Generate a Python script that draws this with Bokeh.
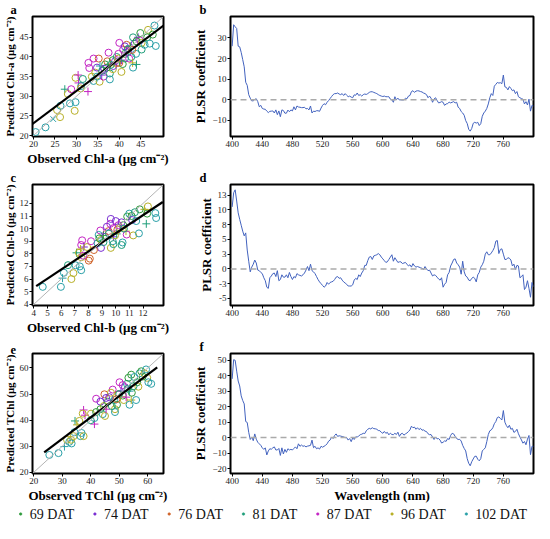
from bokeh.plotting import figure
from bokeh.models import (Range1d, FixedTicker, Title, Span, Slope, ColumnDataSource, FactorRange)
from bokeh.core.properties import value
from bokeh.transform import dodge
from bokeh.layouts import column, row
from bokeh.embed import file_html
from bokeh.resources import INLINE

SERIF = "Liberation Serif"

# ---------------- groups / legend ----------------
dat_labels = ["69 DAT", "74 DAT", "76 DAT", "81 DAT", "87 DAT", "96 DAT", "102 DAT"]
dat_colors = ["#2f9a3c", "#7a2fd2", "#d0642a", "#1f9e7a", "#c424c4", "#b8b028", "#2aa0a8"]
marker_map = {"o": "circle", "+": "cross", "x": "x"}

# ---------------- panel a : Chl-a ----------------
a_obs = [20.5, 22.8, 24.6, 25.5, 26.2, 26.3, 27.3, 28.0, 28.8, 28.5, 29.8, 29.6, 29.8, 30.4, 30.5,
         31.1, 32.7, 31.5, 32.8, 33.0, 33.6, 34.4, 34.0, 34.8, 35.2, 34.0, 35.4, 36.3, 35.9, 35.5,
         36.7, 37.5, 37.8, 37.8, 37.2, 38.5, 39.0, 39.4, 39.8, 40.0, 40.5, 40.0, 40.5, 40.9, 41.3,
         41.7, 41.7, 41.3, 42.1, 42.3, 42.6, 42.8, 43.1, 43.2, 44.0, 43.6, 43.2, 44.4, 43.9, 44.8,
         44.9, 45.2, 45.2, 45.9, 46.7, 46.5, 47.1, 48.2, 48.5, 47.8, 38.5, 38.6, 37.1, 39.8, 41.3,
         39.5, 40.8, 34.8, 31.0, 36.0, 42.0, 44.0, 43.0, 38.0, 36.5]
a_pred = [20.9, 22.1, 24.2, 26.5, 24.7, 27.6, 31.8, 30.6, 31.8, 28.2, 28.5, 26.3, 34.7, 35.4, 33.4,
          32.6, 31.2, 34.4, 38.5, 37.2, 35.0, 36.0, 33.9, 37.3, 39.6, 39.6, 33.7, 35.0, 35.4, 37.7,
          38.1, 41.1, 35.8, 34.3, 38.9, 39.2, 38.9, 40.0, 39.6, 38.5, 39.2, 43.6, 36.2, 41.9, 40.8,
          41.9, 43.1, 39.6, 41.3, 39.6, 42.7, 40.0, 38.5, 37.3, 38.1, 43.4, 45.0, 45.0, 40.8, 44.2,
          46.1, 41.9, 43.6, 43.1, 46.9, 45.0, 43.4, 48.0, 42.8, 45.7, 36.9, 37.7, 37.3, 40.8, 42.7,
          38.5, 38.2, 35.0, 32.0, 36.5, 42.0, 44.0, 41.8, 38.0, 37.0]
a_grp = [6, 6, 6, 5, 5, 6, 3, 5, 4, 6, 6, 5, 5, 4, 4, 6, 4, 3, 4, 4, 5, 5, 6, 1, 2, 4, 5, 4, 1, 6,
         0, 4, 3, 6, 2, 0, 1, 3, 5, 2, 1, 4, 5, 4, 0, 1, 2, 6, 1, 4, 0, 3, 5, 6, 3, 1, 3, 1, 6, 4,
         0, 3, 5, 6, 5, 0, 6, 6, 6, 0, 5, 1, 0, 4, 1, 2, 0, 6, 5, 3, 3, 0, 2, 3, 1]
a_mark = list("ooxooo+oooooo++o+ooooooooooo++oooooooooo+oooo+oooo+o+o+oo+oooooooooooooooooooooooooooo")[:85]
a_fit = [6.79, 0.819, 19.77, 50.3]   # intercept, slope, start, end

# ---------------- panel c : Chl-b ----------------
c_obs = [4.65, 5.98, 6.1, 6.2, 6.5, 6.75, 6.9, 7.06, 7.37, 7.47, 7.13, 7.3, 7.47, 7.54, 7.47,
         7.66, 7.42, 7.9, 8.19, 8.1, 8.02, 7.61, 8.67, 8.87, 8.75, 8.92, 8.92, 9.1, 9.23, 9.1,
         9.47, 9.6, 9.64, 9.64, 9.78, 9.83, 9.83, 10.07, 10.12, 10.3, 10.43, 10.5, 10.43, 10.55,
         10.75, 10.8, 10.84, 10.99, 11.16, 11.28, 11.2, 11.5, 11.7, 12.1, 12.24, 12.3, 12.9, 12.96,
         12.36, 11.76, 9.35, 9.95, 11.4, 10.2, 9.83, 8.4, 8.8, 10.0, 9.5, 10.6]
c_pred = [5.38, 5.38, 6.07, 6.5, 7.1, 6.0, 6.47, 7.09, 7.0, 6.7, 8.08, 8.08, 7.73, 9.07, 8.7,
          8.54, 8.38, 8.54, 9.0, 7.62, 7.46, 7.85, 8.84, 9.85, 9.5, 9.1, 8.47, 9.46, 9.35, 8.93,
          9.8, 10.38, 10.77, 8.47, 9.0, 9.35, 10.04, 9.58, 9.92, 10.08, 10.5, 8.9, 8.7, 10.27,
          9.8, 9.53, 10.96, 11.19, 11.0, 9.46, 10.68, 10.6, 9.62, 11.53, 10.38, 11.19, 11.23, 10.84,
          11.76, 11.53, 10.15, 9.46, 11.3, 10.27, 8.77, 8.3, 9.23, 10.6, 9.6, 10.0]
c_grp = [6, 6, 6, 6, 3, 5, 5, 6, 6, 6, 3, 5, 5, 4, 4, 1, 5, 5, 4, 2, 2, 4, 6, 4, 6, 5, 1, 0, 1, 3,
         2, 4, 1, 5, 6, 1, 4, 3, 2, 5, 1, 6, 3, 0, 5, 4, 0, 6, 0, 5, 1, 6, 6, 5, 3, 0, 6, 6, 5, 0,
         1, 5, 3, 4, 3, 2, 0, 1, 3, 3]
c_mark = list("oo+ooooooo+oooo++oooooooooo+ooooooo+o+oooooo+oooooooo++oooooooooooooooo")[:70]
c_fit = [2.43, 0.72, 4.17, 13.45]

# ---------------- panel e : TChl ----------------
e_obs = [25.5, 28.7, 30.8, 31.7, 32.5, 33.3, 33.1, 34.3, 34.0, 36.4, 37.5, 36.8, 34.5, 35.2, 37.5,
         38.0, 37.2, 36.0, 41.3, 41.3, 40.1, 41.9, 41.9, 43.4, 44.6, 44.8, 44.2, 45.0, 45.4, 46.0,
         46.5, 47.7, 48.3, 48.5, 48.5, 49.2, 49.7, 50.1, 50.6, 51.2, 51.6, 52.0, 52.4, 52.7, 53.2,
         53.6, 53.6, 54.2, 54.4, 54.2, 55.3, 55.9, 56.3, 56.7, 57.1, 57.7, 58.8, 59.4, 59.8, 60.2,
         61.2, 58.2, 47.1, 45.4, 43.4, 47.4, 51.2, 50.0, 53.0, 49.0, 55.0, 40.0]
e_pred = [26.7, 27.4, 29.9, 32.5, 31.7, 31.1, 32.5, 35.4, 33.9, 33.9, 33.9, 35.1, 39.7, 38.2, 43.9,
          41.9, 42.5, 39.7, 38.5, 40.8, 42.5, 43.1, 48.2, 47.1, 45.4, 49.9, 42.3, 41.6, 44.2, 47.1,
          48.8, 51.7, 47.7, 44.2, 43.1, 45.9, 49.9, 54.5, 51.1, 49.4, 47.7, 52.6, 48.8, 53.9, 56.2,
          51.1, 45.9, 47.7, 50.5, 57.4, 56.5, 47.7, 54.5, 52.8, 57.9, 58.7, 57.9, 59.4, 56.2, 54.5,
          53.9, 56.7, 50.5, 48.5, 44.2, 45.4, 53.4, 50.0, 52.0, 48.0, 53.0, 40.0]
e_grp = [6, 6, 6, 5, 6, 6, 5, 6, 5, 6, 5, 6, 3, 5, 4, 4, 5, 5, 4, 6, 5, 0, 4, 1, 5, 2, 6, 5, 4, 0,
         1, 4, 6, 5, 6, 0, 2, 4, 1, 0, 5, 1, 4, 6, 0, 6, 6, 5, 0, 0, 6, 6, 0, 5, 6, 0, 5, 6, 5, 6,
         6, 0, 5, 1, 0, 3, 4, 3, 3, 2, 3, 3]
e_mark = list("oo+ooooooooo++++oo+ooooooooo+ooooooooo+ooo+oo+o+oooooooooooooooooooooooo")[:72]
e_fit = [8.27, 0.82, 23.7, 63.3]

# ---------------- PLSR coefficient spectra (2 nm sampling) ----------------
wavelength = [
    400, 402, 404, 406, 408, 410, 412, 414, 416, 418,
    420, 422, 424, 426, 428, 430, 432, 434, 436, 438,
    440, 442, 444, 446, 448, 450, 452, 454, 456, 458,
    460, 462, 464, 466, 468, 470, 472, 474, 476, 478,
    480, 482, 484, 486, 488, 490, 492, 494, 496, 498,
    500, 502, 504, 506, 508, 510, 512, 514, 516, 518,
    520, 522, 524, 526, 528, 530, 532, 534, 536, 538,
    540, 542, 544, 546, 548, 550, 552, 554, 556, 558,
    560, 562, 564, 566, 568, 570, 572, 574, 576, 578,
    580, 582, 584, 586, 588, 590, 592, 594, 596, 598,
    600, 602, 604, 606, 608, 610, 612, 614, 616, 618,
    620, 622, 624, 626, 628, 630, 632, 634, 636, 638,
    640, 642, 644, 646, 648, 650, 652, 654, 656, 658,
    660, 662, 664, 666, 668, 670, 672, 674, 676, 678,
    680, 682, 684, 686, 688, 690, 692, 694, 696, 698,
    700, 702, 704, 706, 708, 710, 712, 714, 716, 718,
    720, 722, 724, 726, 728, 730, 732, 734, 736, 738,
    740, 742, 744, 746, 748, 750, 752, 754, 756, 758,
    760, 762, 764, 766, 768, 770, 772, 774, 776, 778,
    780, 782, 784, 786, 788, 790, 792, 794, 796, 798,
    800]
coef_chla = [
    26, 36.4, 35.4, 34.6, 26, 25.7, 23, 19.5, 16, 8.5,
    7, 2.5, 0.8, -0.5, -0.5, 0.2, 0.5, -0.9, -3.4, -2.7,
    -4.2, -4.5, -4.6, -5.5, -6.2, -5.6, -5.5, -5.4, -6.4, -4.9,
    -7.2, -5.4, -8.2, -4.9, -5.2, -6.5, -6.5, -5.0, -5.8, -4.9,
    -5.4, -3.4, -4.9, -3.0, -3.5, -3.6, -3.8, -3.8, -3.6, -4.4,
    -4.2, -4.9, -3.0, -6.4, -5.5, -5.7, -5.3, -5.3, -5.6, -4.0,
    -2.7, -1.9, -2.4, -1.2, -0.4, 0.6, 1.6, 2.5, 3.0, 3.0,
    3.3, 2.8, 2.5, 3.0, 2.1, 3.0, 2.2, 1.5, 1.8, 1.3,
    1.0, 2.4, 2.2, 3.3, 2.1, 2.5, 1.8, 2.5, 2.8, 2.6,
    3.0, 3.6, 3.9, 3.9, 3.6, 3.3, 3.0, 2.5, 2.1, 1.8,
    1.6, 1.8, 1.5, 1.5, 1.5, 0.3, 0.0, -1.2, 1.5, 0.0,
    0.8, -0.1, 0.0, -0.1, 0.0, 0.7, 0.5, 1.8, 2.1, 4.0,
    4.4, 3.6, 4.2, 4.4, 4.3, 4.0, 3.8, 3.3, 3.0, 2.5,
    1.0, 1.8, 0.8, -1.2, 0.4, 1.0, -0.3, -1.5, -1.3, -0.9,
    -1.2, -2.7, -2.0, -1.9, -1.1, -1.5, -1.2, -0.9, -1.5, -1.2,
    -3.6, -4.2, -5.7, -6.4, -7.5, -10.1, -11.5, -14.3, -15.2, -13.9,
    -11.4, -10.9, -11.3, -10.9, -12.5, -11.6, -8.0, -6.4, -5.5, -4.2,
    -2.0, 1.0, 3.0, 2.1, 6.6, 7.5, 8.4, 8.1, 8.3, 7.8,
    12.0, 6.3, 6.0, 4.8, 6.4, 5.5, 4.4, 4.8, 3.0, 4.0,
    1.5, 1.0, 0.6, 0.3, -2.0, -0.9, -2.5, 0.3, -5.5, -2.7,
    -3.0]
coef_chlb = [
    10.5, 12.9, 13.4, 11.5, 9.5, 8.4, 7.4, 6.4, 5.6, 6.1,
    3.2, 1.3, -0.5, 0.3, 0.8, 1.5, 1.0, -0.2, -0.3, -0.6,
    -0.8, -1.5, -2.0, -3.1, -3.3, -1.5, -1.2, -0.8, -0.7, -1.3,
    -0.3, -2.0, -1.8, -1.0, -1.4, -1.4, -1.0, -1.5, -0.6, -1.3,
    -1.8, -1.3, -1.5, -0.8, -1.0, -1.1, -1.2, -1.0, -0.7, -0.2,
    0.4, -0.3, 0.8, -0.3, -0.5, -0.8, -1.3, -1.8, -2.2, -2.5,
    -2.8, -3.1, -2.9, -2.3, -2.6, -2.3, -2.2, -2.1, -1.8, -1.4,
    -1.3, -1.6, -1.5, -1.9, -2.2, -2.4, -2.6, -2.9, -2.9, -2.9,
    -2.7, -1.9, -1.6, -1.8, -1.0, -1.3, -0.7, -0.3, 0.6, 0.6,
    1.4, 2.0, 2.1, 1.6, 2.2, 2.3, 2.4, 2.6, 2.4, 2.0,
    1.7, 1.4, 1.1, 1.2, 1.6, 2.0, 2.4, 1.3, 1.9, 1.5,
    1.1, 1.2, 1.2, 0.9, 1.0, 1.1, 0.8, 0.5, 0.7, 0.3,
    0.9, 0.5, 0.3, 0.4, 0.3, 0.2, 0.1, -0.1, 0.4, 0.0,
    -0.3, -0.2, -0.7, -1.2, -1.0, -1.1, -1.4, -1.7, -1.9, -1.5,
    -3.1, -2.6, -2.3, -1.0, -0.6, 0.5, 1.0, 1.6, 1.7, 1.0,
    0.7, 0.3, -0.9, 1.3, -0.5, -1.2, -1.4, -1.9, -2.0, -1.6,
    -1.4, -1.6, -2.2, -1.0, -0.6, 0.3, 0.7, 1.3, 2.5, 2.9,
    2.4, 2.4, 2.7, 3.1, 3.6, 4.7, 4.8, 2.6, 3.3, 3.4,
    2.5, 1.6, 1.6, 1.9, 1.8, 1.5, 0.5, 0.8, -0.1, 0.6,
    0.5, -1.5, -1.3, -1.0, -3.5, -3.1, -2.0, -3.3, -4.8, -2.3,
    -3.0]
coef_tchl = [
    38, 50.4, 50.0, 43, 36.6, 33.4, 27.0, 24, 21.8, 10.4,
    9.8, 3.4, -1.2, 0.4, -2.0, 2.4, -1.0, -3.0, -4.0, -5.0,
    -6.6, -7.6, -6.6, -11.2, -8.6, -7.2, -7.5, -6.6, -6.0, -8.0,
    -8.0, -7.0, -11.5, -6.6, -10.6, -7.6, -9.5, -7.2, -8.0, -7.6,
    -8.0, -7.0, -6.0, -7.2, -4.0, -5.6, -4.8, -5.6, -5.3, -6.0,
    -5.5, -5.3, -5.0, -1.6, -6.5, -5.6, -7.2, -6.6, -7.4, -5.6,
    -6.2, -5.6, -5.0, -4.0, -2.3, -1.6, 0.4, -0.6, 1.4, 2.4,
    0.8, 1.2, 1.0, 0.7, 0.5, 0.0, 0.0, -1.6, -0.6, -2.6,
    -0.2, -1.2, 0.5, 0.4, 1.0, 1.9, 2.2, 2.8, 2.6, 4.4,
    5.4, 6.0, 5.6, 6.4, 5.8, 5.7, 5.4, 4.6, 4.5, 3.4,
    2.8, 4.0, 2.8, 3.4, 1.8, 2.9, 2.0, 1.9, 2.8, 2.0,
    3.5, 0.8, 2.4, 2.8, 1.6, 2.4, 3.0, 3.9, 5.0, 7.4,
    6.4, 6.8, 5.4, 6.4, 5.2, 6.0, 4.8, 5.0, 4.2, 3.9,
    2.5, 1.9, 2.0, 0.4, -1.2, 0.4, -0.8, -0.6, -1.6, -3.5,
    -3.0, -2.1, -2.4, -0.6, -1.2, 1.4, 2.8, 2.4, 0.8, -0.6,
    -1.2, -1.1, -2.2, -5.0, -7.0, -8.6, -13.6, -16.6, -18.2, -15.6,
    -13.8, -12.1, -12.0, -14.0, -15.0, -13.6, -8.6, -7.6, -6.6, -2.6,
    2.0, 4.4, 5.0, 6.4, 9.0, 10.4, 13.0, 13.4, 12.4, 11.4,
    17.5, 10.0, 7.8, 6.4, 8.0, 5.4, 6.0, 3.4, 4.0, 5.4,
    2.5, 0.4, -1.5, -3.6, -2.5, -4.6, -1.0, 1.4, -11.0, -5.6,
    -5.6]

wl_ticks = [400, 440, 480, 520, 560, 600, 640, 680, 720, 760]


def base_fig(w, h, xr, yr, bl, br, bt, bb, letter, letter_offset):
    p = figure(width=w, height=h, x_range=Range1d(*xr), y_range=Range1d(*yr),
               output_backend="svg", toolbar_location=None,
               min_border_left=bl, min_border_right=br, min_border_top=bt, min_border_bottom=bb)
    p.title = Title(text=letter, align="left", offset=letter_offset, standoff=0,
                    text_font=SERIF, text_font_style="bold", text_font_size="12.5px",
                    text_color="black")
    p.outline_line_color = "black"
    p.outline_line_width = 2
    p.grid.visible = False
    p.background_fill_color = "white"
    p.border_fill_color = "white"
    for ax in (p.xaxis[0], p.yaxis[0]):
        ax.axis_line_color = "black"
        ax.major_tick_out = 3
        ax.major_tick_in = 0
        ax.minor_tick_line_color = None
        ax.major_tick_line_color = "black"
        ax.major_label_text_font = SERIF
        ax.major_label_text_font_size = "9px"
        ax.major_label_text_color = "#222222"
        ax.major_label_standoff = 1
        ax.axis_label_text_font = SERIF
        ax.axis_label_text_font_style = "bold"
        ax.axis_label_text_font_size = "13px"
        ax.axis_label_text_color = "black"
        ax.axis_label_standoff = 1
    return p


def scatter_panel(h, bt, bb, rng, ticks, obs, pred, grp, mark, fit, xlabel, ylabel, letter):
    p = base_fig(184, h, rng, rng, 30, 21, bt, bb, letter, -22)
    p.xaxis.ticker = FixedTicker(ticks=ticks)
    p.yaxis.ticker = FixedTicker(ticks=ticks)
    p.xaxis.axis_label = xlabel
    p.yaxis.axis_label = ylabel
    p.yaxis.axis_label_text_font_size = "11px"
    p.add_layout(Slope(gradient=1, y_intercept=0, line_color="#b4b4b4", line_width=1))
    src = ColumnDataSource(dict(
        x=obs, y=pred,
        c=[dat_colors[g] for g in grp],
        m=[marker_map[k] for k in mark],
        s=[7 if k == "o" else 8 for k in mark]))
    p.scatter("x", "y", source=src, marker="m", size="s", line_color="c",
              fill_color=None, line_width=1)
    b0, b1, x0, x1 = fit
    p.line([x0, x1], [b0 + b1 * x0, b0 + b1 * x1], line_color="black", line_width=2.2)
    return p


def coef_panel(h, bt, bb, yr, yticks, coef, letter, xlabel=None, overrides=None):
    p = base_fig(352, h, (397.8, 800), yr, 46, 3, bt, bb, letter, -31)
    p.xaxis.ticker = FixedTicker(ticks=wl_ticks)
    p.yaxis.ticker = FixedTicker(ticks=yticks)
    if overrides:
        p.yaxis.major_label_overrides = overrides
    p.yaxis.axis_label = "PLSR coefficient"
    if xlabel:
        p.xaxis.axis_label = xlabel
    p.add_layout(Span(location=0, dimension="width", line_color="#aaaaaa",
                      line_dash="6 4", line_width=1.5))
    p.line(wavelength, coef, line_color="#4262be", line_width=1)
    return p


fa = scatter_panel(168, 12, 29, (19.77, 50.3), [20, 25, 30, 35, 40, 45], a_obs, a_pred, a_grp,
                   a_mark, a_fit, "Observed Chl-a (μg cm⁻²)", "Predicted Chl-a (μg cm⁻²)", "a")
fb = coef_panel(168, 12, 32, (-17.8, 40.4), [-10, 0, 10, 20, 30], coef_chla, "b")

fc = scatter_panel(169, 12, 28, (3.9, 13.5), [4, 5, 6, 7, 8, 9, 10, 11, 12], c_obs, c_pred, c_grp,
                   c_mark, c_fit, "Observed Chl-b (μg cm⁻²)", "Predicted Chl-b (μg cm⁻²)", "c")
fd = coef_panel(169, 12, 30, (-6.2, 14.3), [-5, -2.5, 0, 2.5, 5, 7.5, 10, 12.5], coef_chlb, "d",
                overrides={-5: "-5", -2.5: "-3", 0: "0", 2.5: "3", 5: "5", 7.5: "8",
                           10: "10", 12.5: "13"})

fe = scatter_panel(168, 12, 31, (19.6, 65.5), [20, 30, 40, 50, 60], e_obs, e_pred, e_grp,
                   e_mark, e_fit, "Observed TChl (μg cm⁻²)", "Predicted TChl (μg cm⁻²)", "e")
ff = coef_panel(168, 12, 30, (-23.2, 54.4), [-20, -10, 0, 10, 20, 30, 40, 50], coef_tchl, "f",
                xlabel="Wavelength (nm)")

# ---------------- legend strip (one factor per DAT group) ----------------
leg = figure(width=536, height=17, x_range=FactorRange(*dat_labels), y_range=Range1d(-1, 1),
             output_backend="svg", toolbar_location=None,
             min_border_left=13, min_border_right=3, min_border_top=0, min_border_bottom=0,
             x_axis_type=None, y_axis_type=None)
leg.outline_line_color = None
leg.grid.visible = False
leg_src = ColumnDataSource(dict(g=dat_labels, y=[0] * len(dat_labels), c=dat_colors))
leg.scatter(dodge("g", -0.404, range=leg.x_range), "y", source=leg_src, marker="circle",
            size=2.6, fill_color="c", line_color="c", line_width=0.5)
leg.text("g", "y", text="g", source=leg_src, x_offset=-21, text_font=value(SERIF),
         text_font_size="14px", text_baseline="middle", text_align="left", text_color="#111111")

layout = column(row(fa, fb), row(fc, fd), row(fe, ff), leg)
open("out.html", "w").write(file_html(layout, INLINE))
